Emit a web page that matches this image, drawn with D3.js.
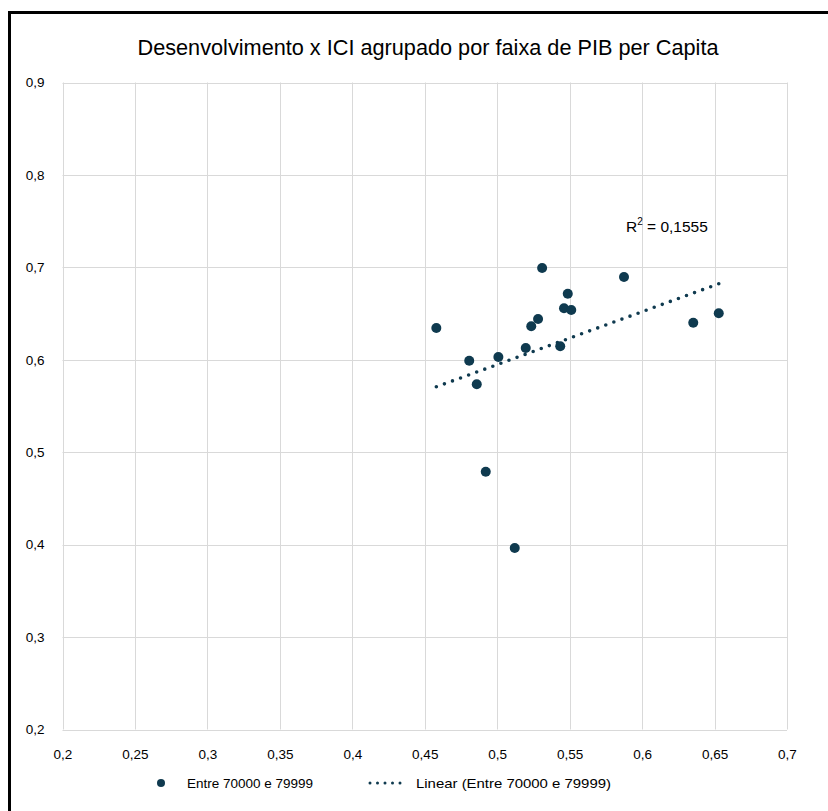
<!DOCTYPE html>
<html>
<head>
<meta charset="utf-8">
<script src="https://cdn.jsdelivr.net/npm/d3@7"></script>
<style>
  body { margin: 0; background: #fff; }
  svg { display: block; }
</style>
</head>
<body>
<div id="chart"></div>
<script>
// points (x = ICI, y = desenvolvimento)
var xValues = [0.458, 0.531, 0.5875, 0.5487, 0.5461, 0.5511, 0.5282, 0.5235, 0.6353,
               0.6529, 0.5197, 0.5435, 0.4807, 0.5008, 0.4859, 0.4921, 0.5121];
var yValues = [0.6344, 0.6993, 0.6896, 0.6715, 0.6557, 0.6539, 0.6441, 0.6362, 0.6401,
               0.6503, 0.6127, 0.6146, 0.599, 0.603, 0.5735, 0.4789, 0.3964];
var xTicks = [0.2, 0.25, 0.3, 0.35, 0.4, 0.45, 0.5, 0.55, 0.6, 0.65, 0.7];
var yTicks = [0.2, 0.3, 0.4, 0.5, 0.6, 0.7, 0.8, 0.9];
var seriesName = "Entre 70000 e 79999";
var r2Text = "0,1555";

var W = 828, H = 811;
var color = "#0f3a4f";
var grid = "#d9d9d9";
var fmt = function(d) { return String(d).replace(".", ","); };

var svg = d3.select("#chart").append("svg")
    .attr("width", W)
    .attr("height", H);

// chart frame (only top and left edges are inside the picture)
svg.append("path")
    .attr("d", "M9.5," + H + "V12.5H" + W)
    .attr("fill", "none")
    .attr("stroke", "#000")
    .attr("stroke-width", 3);

var x = d3.scaleLinear().domain([0.2, 0.7]).range([62.5, 787]);
var y = d3.scaleLinear().domain([0.2, 0.9]).range([729.5, 82.5]);

// title
svg.append("text")
    .attr("x", 428)
    .attr("y", 55)
    .attr("text-anchor", "middle")
    .attr("font-family", "'Liberation Sans', Arial, sans-serif")
    .attr("font-size", 22.5)
    .attr("textLength", 581)
    .attr("lengthAdjust", "spacingAndGlyphs")
    .attr("fill", "#000")
    .text("Desenvolvimento x ICI agrupado por faixa de PIB per Capita");

// gridlines
svg.append("g")
    .selectAll("line")
    .data(xTicks)
    .join("line")
    .attr("x1", function(d) { return Math.round(x(d)) + 0.5; })
    .attr("x2", function(d) { return Math.round(x(d)) + 0.5; })
    .attr("y1", y(0.9))
    .attr("y2", y(0.2))
    .attr("stroke", grid);

svg.append("g")
    .selectAll("line")
    .data(yTicks)
    .join("line")
    .attr("x1", x(0.2))
    .attr("x2", x(0.7))
    .attr("y1", function(d) { return Math.round(y(d)) + 0.5; })
    .attr("y2", function(d) { return Math.round(y(d)) + 0.5; })
    .attr("stroke", grid);

// axes labels (no domain / tick lines)
var xAxis = svg.append("g")
    .attr("transform", "translate(0," + (y(0.2) + 17) + ")")
    .call(d3.axisBottom(x).tickValues(xTicks).tickFormat(fmt).tickSize(0));
var yAxis = svg.append("g")
    .attr("transform", "translate(" + (x(0.2) - 15) + ",0)")
    .call(d3.axisLeft(y).tickValues(yTicks).tickFormat(fmt).tickSize(0));
[xAxis, yAxis].forEach(function(a) {
    a.select(".domain").remove();
    a.selectAll("text")
        .attr("font-family", "'Liberation Sans', Arial, sans-serif")
        .attr("font-size", 13.5)
        .attr("fill", "#000");
});
yAxis.selectAll("text").attr("dx", 0);

// linear trendline from least squares on the points
var pts = xValues.map(function(v, i) { return [v, yValues[i]]; });
var mx = d3.mean(xValues), my = d3.mean(yValues);
var sxy = d3.sum(pts, function(p) { return (p[0] - mx) * (p[1] - my); });
var sxx = d3.sum(pts, function(p) { return (p[0] - mx) * (p[0] - mx); });
var slope = sxy / sxx, icpt = my - slope * mx;
var ends = d3.extent(xValues).map(function(v) { return [v, icpt + slope * v]; });

var trend = svg.append("path")
    .datum(ends)
    .attr("d", d3.line().x(function(d) { return x(d[0]); }).y(function(d) { return y(d[1]); }))
    .attr("fill", "none")
    .attr("stroke", color)
    .attr("stroke-width", 3.6)
    .attr("stroke-linecap", "round");
// spread the dots so one lands on each end
var len = trend.node().getTotalLength();
trend.attr("stroke-dasharray", "0 " + (len / Math.round(len / 8.65)));

// points
svg.append("g")
    .selectAll("circle")
    .data(pts)
    .join("circle")
    .attr("cx", function(d) { return x(d[0]); })
    .attr("cy", function(d) { return y(d[1]); })
    .attr("r", 5)
    .attr("fill", color);

// R² label
var r2 = svg.append("text")
    .attr("x", 626)
    .attr("y", 232)
    .attr("font-family", "'Liberation Sans', Arial, sans-serif")
    .attr("font-size", 15.5)
    .attr("fill", "#000");
r2.append("tspan").text("R");
r2.append("tspan").attr("font-size", 10).attr("dy", -7).text("2");
r2.append("tspan").attr("dy", 7).text(" = " + r2Text);

// legend
var leg = svg.append("g")
    .attr("font-family", "'Liberation Sans', Arial, sans-serif")
    .attr("font-size", 13.5)
    .attr("fill", "#000");
leg.append("circle")
    .attr("cx", 161)
    .attr("cy", 783)
    .attr("r", 4)
    .attr("fill", color);
leg.append("text")
    .attr("x", 187)
    .attr("y", 787.5)
    .attr("textLength", 126)
    .attr("lengthAdjust", "spacingAndGlyphs")
    .text(seriesName);
leg.append("line")
    .attr("x1", 370)
    .attr("x2", 405)
    .attr("y1", 783)
    .attr("y2", 783)
    .attr("stroke", color)
    .attr("stroke-width", 3)
    .attr("stroke-linecap", "round")
    .attr("stroke-dasharray", "0 7.5");
leg.append("text")
    .attr("x", 416)
    .attr("y", 787.5)
    .attr("textLength", 195)
    .attr("lengthAdjust", "spacingAndGlyphs")
    .text("Linear (" + seriesName + ")");
</script>
</body>
</html>
